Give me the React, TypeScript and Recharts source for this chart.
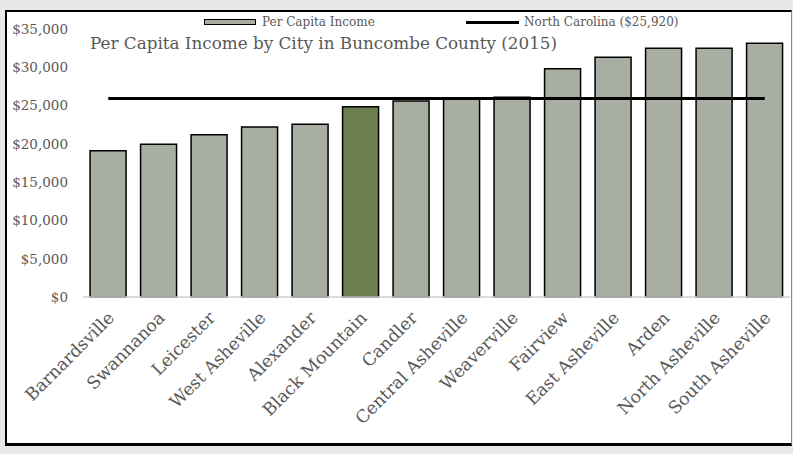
import React from 'react';
import { ComposedChart, Bar, Line, XAxis, YAxis, Cell, Legend } from 'recharts';

const cities = [
  'Barnardsville', 'Swannanoa', 'Leicester', 'West Asheville', 'Alexander', 'Black Mountain',
  'Candler', 'Central Asheville', 'Weaverville', 'Fairview', 'East Asheville', 'Arden',
  'North Asheville', 'South Asheville',
];
const incomes = [19100, 19950, 21200, 22200, 22550, 24850, 25600, 25850, 26100, 29800, 31300, 32500, 32500, 33150];
const NC_INCOME = 25920;
const highlightCity = 'Black Mountain';
const yTicks = [0, 5000, 10000, 15000, 20000, 25000, 30000, 35000];

const data = cities.map((city, i) => ({ city, income: incomes[i], nc: NC_INCOME }));

const FONT = '"DejaVu Serif", serif';
const TEXT = '#595959';
const BAR_FILL = '#a8afa2';
const HIGHLIGHT_FILL = '#6b7f4e';

const fmt = (v: number) => '$' + v.toLocaleString('en-US');

const XTick = (props: any) => {
  const { x, y, payload } = props;
  return (
    <text
      x={0}
      y={0}
      transform={`translate(${x + 7},${y + 14}) rotate(-45)`}
      textAnchor="end"
      fill={TEXT}
      fontFamily={FONT}
      fontSize={17.3}
    >
      {payload.value}
    </text>
  );
};

const renderLegend = () => (
  <div style={{ position: 'relative', height: 0 }}>
    <div style={{ position: 'absolute', left: 197, top: 7, width: 50, height: 4, background: BAR_FILL, border: '1.5px solid #000' }} />
    <div style={{ position: 'absolute', left: 255, top: 3, fontFamily: FONT, fontSize: 12, color: TEXT, whiteSpace: 'nowrap', lineHeight: '14px' }}>Per Capita Income</div>
    <div style={{ position: 'absolute', left: 459, top: 9, width: 53, height: 3, background: '#000' }} />
    <div style={{ position: 'absolute', left: 517, top: 3, fontFamily: FONT, fontSize: 12, color: TEXT, whiteSpace: 'nowrap', lineHeight: '14px' }}>North Carolina ($25,920)</div>
  </div>
);

export default function App() {
  return (
    <div style={{ position: 'fixed', left: 0, top: 0, width: 793, height: 454, background: '#e7e7e7' }}>
      <div
        style={{
          position: 'absolute',
          left: 5,
          top: 10,
          width: 784,
          height: 431,
          background: '#fff',
          borderLeft: '2px solid #000',
          borderTop: '2px solid #000',
          borderRight: '1px solid #8a8a8a',
          borderBottom: '3px solid #000',
        }}
      >
        <div style={{ position: 'absolute', left: 83, top: 21, fontFamily: FONT, fontSize: 16.8, color: TEXT, whiteSpace: 'nowrap' }}>
          Per Capita Income by City in Buncombe County (2015)
        </div>
        <ComposedChart
          width={784}
          height={430}
          data={data}
          margin={{ top: 17, right: 1, bottom: 0, left: 0 }}
          barCategoryGap="14%"
        >
          <XAxis
            dataKey="city"
            interval={0}
            tickLine={false}
            axisLine={{ stroke: '#d0d0d0', strokeWidth: 1.5 }}
            tick={<XTick />}
            height={145}
          />
          <YAxis
            domain={[0, 35000]}
            ticks={yTicks}
            tickFormatter={fmt}
            axisLine={false}
            tickLine={false}
            tickSize={0}
            tickMargin={15}
            width={76}
            tick={{ fill: TEXT, fontFamily: FONT, fontSize: 13.5 }}
          />
          <Legend verticalAlign="top" content={renderLegend} wrapperStyle={{ top: 0, left: 0, width: 784 }} />
          <Bar dataKey="income" stroke="#000" strokeWidth={1.5} isAnimationActive={false}>
            {data.map((d) => (
              <Cell key={d.city} fill={d.city === highlightCity ? HIGHLIGHT_FILL : BAR_FILL} />
            ))}
          </Bar>
          <Line dataKey="nc" stroke="#000" strokeWidth={3} dot={false} activeDot={false} type="linear" isAnimationActive={false} />
        </ComposedChart>
      </div>
    </div>
  );
}
